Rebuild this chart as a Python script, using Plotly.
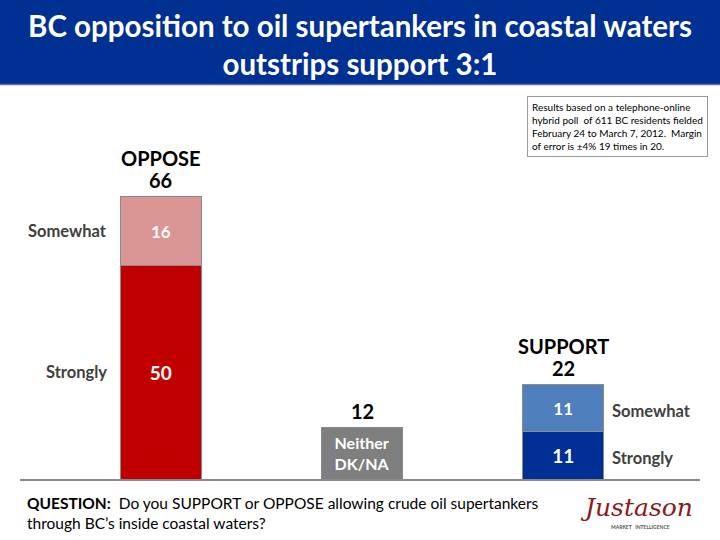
import plotly.graph_objects as go

categories = ["Oppose", "Neither", "Support"]
group_labels = ["OPPOSE", "", "SUPPORT"]
strongly = [50, None, 11]
somewhat = [16, None, 11]
neither = [None, 12, None]
totals = [66, 12, 22]

title_text = "BC opposition to oil supertankers in coastal waters<br>outstrips support 3:1"
note_text = ("Results based on a telephone-online<br>hybrid poll  of 611 BC residents fielded<br>"
             "February 24 to March 7, 2012.  Margin<br>of error is \u00b14% 19 times in 20.")
question_text = ("<b>QUESTION:</b>  Do you SUPPORT or OPPOSE allowing crude oil supertankers<br>"
                 "through BC\u2019s inside coastal waters?")

FONT = "Lato, 'Open Sans', sans-serif"
W, H = 720, 540
ML, MR, MT, MB = 20, 20, 137, 61
ph = H - MT - MB
pw = W - ML - MR

def py(p):  # pixel y -> paper y
    return (H - MB - p) / ph

def px(p):  # pixel x -> paper x
    return (p - ML) / pw

line = dict(color="#8a8a8a", width=1)
fig = go.Figure()
fig.add_trace(go.Bar(x=categories, y=strongly, name="Strongly",
                     marker=dict(color=["#c00000", "#c00000", "#002f96"], line=line),
                     text=[str(v) if v else "" for v in strongly], textposition="inside",
                     insidetextanchor="middle",
                     textfont=dict(color="white", size=19, family=FONT, weight="bold")))
fig.add_trace(go.Bar(x=categories, y=somewhat, name="Somewhat",
                     marker=dict(color=["#d99694", "#d99694", "#4f7fbd"], line=line),
                     text=[str(v) if v else "" for v in somewhat], textposition="inside",
                     insidetextanchor="middle",
                     textfont=dict(color="white", size=17, family=FONT, weight="bold")))
fig.add_trace(go.Bar(x=categories, y=neither, name="Neither",
                     marker=dict(color="#7f7f7f", line=line),
                     text=["", "Neither<br>DK/NA", ""], textposition="inside",
                     insidetextanchor="middle",
                     textfont=dict(color="white", size=16, family=FONT, weight="bold")))

ann = []
for c, g, t in zip(categories, group_labels, totals):
    ann.append(dict(x=c, y=t, xref="x", yref="y", text=f"<b>{t}</b>", showarrow=False,
                    yanchor="bottom", yshift=3, font=dict(size=20, color="black", family=FONT)))
    if g:
        ann.append(dict(x=c, y=t, xref="x", yref="y", text=f"<b>{g}</b>", showarrow=False,
                        yanchor="bottom", yshift=25, font=dict(size=20, color="black", family=FONT)))
# side labels
side_font = dict(size=16.5, color="#404040", family=FONT)
ann.append(dict(x=categories[0], y=strongly[0] + somewhat[0] / 2, xref="x", yref="y",
                text="<b>Somewhat</b>", showarrow=False, xanchor="right", xshift=-52, font=side_font))
ann.append(dict(x=categories[0], y=strongly[0] / 2, xref="x", yref="y",
                text="<b>Strongly</b>", showarrow=False, xanchor="right", xshift=-52, font=side_font))
ann.append(dict(x=categories[2], y=strongly[2] + somewhat[2] / 2, xref="x", yref="y",
                text="<b>Somewhat</b>", showarrow=False, xanchor="left", xshift=47, yshift=-3, font=side_font))
ann.append(dict(x=categories[2], y=strongly[2] / 2, xref="x", yref="y",
                text="<b>Strongly</b>", showarrow=False, xanchor="left", xshift=47, yshift=-3, font=side_font))
# title
ann.append(dict(x=0.5, y=py(45), xref="paper", yref="paper", text=f"<b>{title_text}</b>",
                showarrow=False, xanchor="center", yanchor="middle",
                font=dict(size=29.5, color="white", family=FONT)))
# note box
ann.append(dict(x=px(527), y=py(96), xref="paper", yref="paper", text=note_text, showarrow=False,
                xanchor="left", yanchor="top", align="left", bordercolor="#9a9a9a", borderwidth=1,
                borderpad=4, bgcolor="white", font=dict(size=10, color="black", family=FONT)))
# question
ann.append(dict(x=px(25), y=py(492), xref="paper", yref="paper", text=question_text, showarrow=False,
                xanchor="left", yanchor="top", align="left",
                font=dict(size=15.5, color="black", family=FONT)))
# logo
ann.append(dict(x=px(636), y=py(507), xref="paper", yref="paper",
                text="<i>Justason</i>", showarrow=False, xanchor="center", yanchor="middle",
                font=dict(size=25, color="#8b1a1a", family="'DejaVu Serif', serif")))
ann.append(dict(x=px(640), y=py(527), xref="paper", yref="paper",
                text="<b>MARKET   INTELLIGENCE</b>", showarrow=False, xanchor="center", yanchor="middle",
                font=dict(size=5, color="#555555", family=FONT)))

shapes = [
    dict(type="rect", xref="paper", yref="paper", x0=px(0), x1=px(W), y0=py(84), y1=py(0),
         fillcolor="#003092", line=dict(width=0), layer="below"),
    dict(type="line", xref="paper", yref="paper", x0=px(0), x1=px(W), y0=py(84.5), y1=py(84.5),
         line=dict(color="#5a6fa8", width=1.5)),
]

fig.update_layout(
    width=W, height=H, barmode="stack", bargap=0.6, showlegend=False,
    margin=dict(l=ML, r=MR, t=MT, b=MB),
    paper_bgcolor="white", plot_bgcolor="white",
    xaxis=dict(range=[-0.7, 2.68], showticklabels=False, showgrid=False, zeroline=False,
               showline=True, linecolor="#8a8a8a", linewidth=2, ticks=""),
    yaxis=dict(range=[0, 80], visible=False),
    annotations=ann, shapes=shapes,
    font=dict(family=FONT),
)
fig.write_html("out.html", config={"displayModeBar": False},
               post_script="document.body.style.margin='0';document.body.style.overflow='hidden';")
